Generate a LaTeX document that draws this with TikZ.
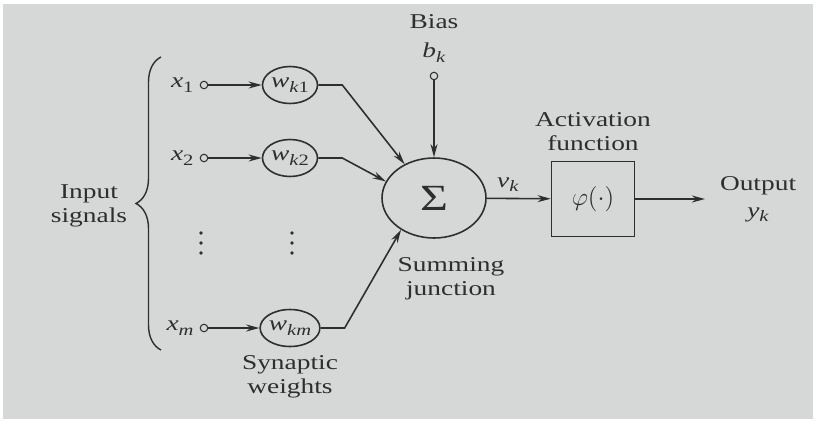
\documentclass[tikz,border=0pt]{standalone}
\usepackage{fontspec}
\setmainfont{Liberation Serif}[FakeStretch=1.3]
\usepackage{tikz}
\usetikzlibrary{positioning,arrows.meta,shapes.geometric,decorations.pathreplacing}
\definecolor{paper}{RGB}{213,216,214}
\definecolor{ink}{RGB}{45,47,47}
\newcommand{\sub}[2]{\textit{#1}\raisebox{-0.45ex}{\fontsize{9}{9}\selectfont #2}}

\begin{document}
\begin{tikzpicture}[x=0.02cm,y=-0.02cm,>={Stealth[length=7.5pt,width=4pt]},
   every node/.style={font=\fontsize{12}{13.6}\selectfont,text=ink},
   wt/.style={ellipse,draw=ink,line width=0.9pt,minimum width=1.1cm,
     minimum height=0.74cm,inner sep=0pt},
   port/.style={circle,draw=ink,line width=0.6pt,minimum size=0.15cm,inner sep=0pt},
   wire/.style={draw=ink,line width=0.9pt},
   vdot/.style={fill=ink}]
  \fill[white] (0,0) rectangle (817,423);
  \fill[paper] (3,4) rectangle (813,419);
  \useasboundingbox (0,0) rectangle (817,423);

  % inputs and weights
  \node[port] (in1) at (204,85) {};
  \node[port] (in2) at (204,158) {};
  \node[port] (inm) at (204,328) {};
  \node (x1) [left=0pt of in1] {\sub{x}{1}};
  \node (x2) [left=0pt of in2] {\sub{x}{2}};
  \node (xm) [left=0pt of inm] {\sub{x}{\textit{m}}};
  \node[wt] (w1) at (290,85) {\sub{w}{\textit{k}1}};
  \node[wt] (w2) at (290,158) {\sub{w}{\textit{k}2}};
  \node[wt] (wm) at (290,328) {\sub{w}{\textit{km}}};
  \coordinate (d1) at (201,243);
  \coordinate (d2) at (292,243);
  \foreach \dy in {-10,0,10} {
    \fill[vdot] (d1) ++(0,\dy) circle (1.1pt);
    \fill[vdot] (d2) ++(0,\dy) circle (1.1pt);
  }
  \node (syn) [below=1pt of wm,align=center] {Synaptic\\weights};
  \node (insig) at (89,206) [align=center] {Input\\signals};
  \draw[ink,line width=0.8pt,decorate,decoration={brace,amplitude=0.5cm}]
    (161,350) -- (161,57);

  % summing junction and bias
  \node[ellipse,draw=ink,line width=0.9pt,minimum width=2.08cm,
    minimum height=1.6cm] (sum) at (434,198) {\fontsize{21}{21}\selectfont Σ};
  \node (sumlbl) at (451,279) [align=center] {Summing\\junction};
  \node[port] (bk) at (434,76) {};
  \node (bias) [above=2pt of bk,align=center] {Bias\\[3pt]\sub{b}{\textit{k}}};

  % activation and output
  \node[draw=ink,line width=0.9pt,minimum width=1.66cm,minimum height=1.5cm]
    (act) at (593,199) {\Large$\varphi(\cdot)$};
  \node (actlbl) [above=2pt of act,align=center] {Activation\\function};
  \coordinate (out) at (705,199);
  \node (outlbl) [right=5pt of out,align=center] {Output\\[2pt]\sub{y}{\textit{k}}};

  \draw[wire,->] (in1) -- (w1);
  \draw[wire,->] (in2) -- (w2);
  \draw[wire,->] (inm) -- (wm);
  \draw[wire,->] (w1.east) -- ++(24,0) -- (sum.131);
  \draw[wire,->] (w2.east) -- ++(24,0) -- (sum.161);
  \draw[wire,->] (wm.east) -- ++(24,0) -- (sum.224);
  \draw[wire,->] (bk) -- (sum);
  \draw[wire,->] (sum) -- node[above,pos=0.33]{\sub{v}{\textit{k}}} (act);
  \draw[wire,->] (act) -- (out);
\end{tikzpicture}
\end{document}
